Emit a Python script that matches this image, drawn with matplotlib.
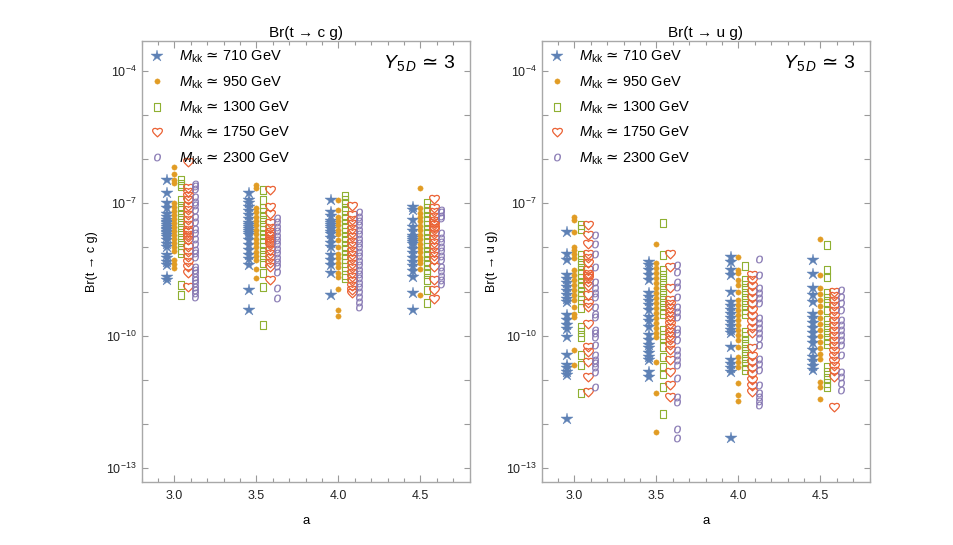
"""Br(t -> c g) and Br(t -> u g) scatter versus a, for Y5D ~ 3 and five KK masses."""

import matplotlib

matplotlib.use("Agg")
import matplotlib.pyplot as plt
import numpy as np
from matplotlib.lines import Line2D
from matplotlib.path import Path
from matplotlib.ticker import FixedLocator, LogFormatterSciNotation, MultipleLocator, NullFormatter

plt.rcParams["font.family"] = ["Liberation Sans", "DejaVu Sans"]
plt.rcParams["mathtext.fontset"] = "custom"
plt.rcParams["mathtext.rm"] = "Liberation Sans"
plt.rcParams["mathtext.it"] = "Liberation Sans:italic"
plt.rcParams["mathtext.sf"] = "DejaVu Sans"
plt.rcParams["mathtext.fallback"] = "stixsans"

A_VALUES = [3.0, 3.5, 4.0, 4.5]
MASSES = ["710", "950", "1300", "1750", "2300"]

# log10 Br(t -> c g), one sublist per value of a
CG_710 = [
    [-6.47, -6.77, -7.0, -7.11, -7.23, -7.30, -7.38, -7.42, -7.45, -7.50, -7.53, -7.58, -7.61, -7.65,
     -7.68, -7.72, -7.76, -7.83, -7.91, -7.99, -8.17, -8.25, -8.32, -8.40, -8.67, -8.74],
    [-6.77, -6.93, -7.0, -7.09, -7.18, -7.27, -7.36, -7.45, -7.50, -7.54, -7.58, -7.63, -7.68, -7.72,
     -7.83, -7.94, -8.06, -8.17, -8.27, -8.40, -8.97, -9.42],
    [-6.93, -7.19, -7.29, -7.39, -7.44, -7.49, -7.54, -7.59, -7.64, -7.69, -7.79, -7.89, -7.99, -8.17,
     -8.29, -8.40, -8.59, -9.08],
    [-7.08, -7.15, -7.38, -7.53, -7.63, -7.73, -7.78, -7.83, -7.88, -7.93, -8.03, -8.13, -8.23, -8.33,
     -8.43, -8.53, -8.67, -9.04, -9.42],
]
CG_950 = [
    [-6.17, -6.34, -6.46, -6.54, -7.0, -7.09, -7.18, -7.27, -7.36, -7.45, -7.54, -7.63, -7.72, -7.81,
     -7.90, -7.99, -8.08, -8.29, -8.38, -8.47],
    [-6.59, -6.64, -7.11, -7.2, -7.3, -7.4, -7.5, -7.6, -7.7, -7.8, -7.9, -8.0, -8.1, -8.2, -8.29,
     -8.48, -8.70],
    [-6.93, -7.14, -7.30, -7.40, -7.50, -7.60, -7.70, -7.83, -7.99, -8.14, -8.25, -8.36, -8.44, -8.59,
     -8.67, -8.95, -9.41, -9.55],
    [-6.66, -7.11, -7.21, -7.31, -7.41, -7.51, -7.61, -7.71, -7.81, -7.91, -8.01, -8.11, -8.21, -8.29,
     -8.36, -8.48, -9.08],
]
CG_1300 = [
    [-6.47, -6.55, -6.61, -6.93, -7.05, -7.16, -7.27, -7.38, -7.49, -7.61, -7.72, -7.83, -7.94, -8.06,
     -8.13, -8.85, -9.08],
    [-6.70, -6.93, -7.11, -7.19, -7.30, -7.42, -7.53, -7.6, -7.7, -7.8, -7.9, -8.0, -8.1, -8.21, -8.36,
     -8.59, -8.89, -9.76],
    [-6.84, -6.93, -7.0, -7.16, -7.26, -7.36, -7.46, -7.56, -7.66, -7.76, -7.86, -7.96, -8.06, -8.16,
     -8.26, -8.36, -8.44, -8.63, -8.70],
    [-7.0, -7.1, -7.2, -7.3, -7.4, -7.5, -7.6, -7.7, -7.8, -7.9, -8.0, -8.1, -8.2, -8.3, -8.4, -8.5,
     -8.6, -8.74, -8.97, -9.27],
]
CG_1750 = [
    [-6.06, -6.65, -6.74, -6.84, -6.93, -7.05, -7.16, -7.27, -7.38, -7.49, -7.61, -7.66, -7.72, -7.77,
     -7.83, -7.99, -8.11, -8.22, -8.33, -8.45, -8.58, -8.90],
    [-6.70, -7.08, -7.23, -7.45, -7.55, -7.65, -7.70, -7.75, -7.80, -7.85, -7.90, -7.95, -8.05, -8.15,
     -8.25, -8.35, -8.45, -8.74],
    [-7.06, -7.27, -7.37, -7.47, -7.57, -7.67, -7.77, -7.87, -7.97, -8.07, -8.17, -8.27, -8.37, -8.47,
     -8.57, -8.67, -8.77, -8.87, -8.97, -9.04],
    [-6.89, -7.11, -7.2, -7.3, -7.4, -7.45, -7.5, -7.55, -7.6, -7.7, -7.8, -7.9, -8.0, -8.1, -8.2,
     -8.29, -8.44, -8.74, -8.97, -9.16],
]
CG_2300 = [
    [-6.55, -6.61, -6.68, -6.85, -6.96, -7.04, -7.15, -7.30, -7.42, -7.57, -7.68, -7.80, -7.91, -8.06,
     -8.13, -8.21, -8.44, -8.51, -8.59, -8.66, -8.74, -8.81, -8.89, -8.96, -9.04, -9.12],
    [-7.33, -7.43, -7.53, -7.63, -7.73, -7.83, -7.93, -8.03, -8.13, -8.23, -8.33, -8.43, -8.56, -8.92,
     -9.15],
    [-7.19, -7.3, -7.4, -7.5, -7.6, -7.7, -7.8, -7.9, -8.0, -8.1, -8.2, -8.3, -8.4, -8.5, -8.6, -8.7,
     -8.81, -8.89, -9.01, -9.12, -9.23, -9.36],
    [-7.15, -7.2, -7.28, -7.33, -7.68, -7.78, -7.88, -7.98, -8.08, -8.19, -8.29, -8.44, -8.54, -8.64,
     -8.74, -8.82],
]

# log10 Br(t -> u g), one sublist per value of a
UG_710 = [
    [-7.65, -8.14, -8.29, -8.63, -8.72, -8.81, -8.90, -8.99, -9.08, -9.17, -9.24, -9.54, -9.65, -9.76,
     -9.84, -10.03, -10.44, -10.67, -10.74, -10.82, -10.90, -11.88],
    [-8.33, -8.40, -8.51, -8.63, -8.74, -9.04, -9.13, -9.22, -9.31, -9.42, -9.57, -9.67, -9.80, -9.99,
     -10.10, -10.22, -10.29, -10.40, -10.48, -10.56, -10.82, -10.94],
    [-8.21, -8.33, -8.51, -8.63, -9.01, -9.24, -9.33, -9.42, -9.51, -9.60, -9.69, -9.78, -9.87, -9.94,
     -10.25, -10.56, -10.65, -10.74, -10.82, -12.33],
    [-8.29, -8.61, -8.93, -9.08, -9.23, -9.50, -9.60, -9.72, -9.83, -9.94, -10.06, -10.17, -10.33,
     -10.48, -10.58, -10.69, -10.78],
]
UG_950 = [
    [-7.31, -7.38, -7.65, -7.99, -8.06, -8.14, -8.25, -8.51, -8.63, -8.74, -8.85, -8.97, -9.08, -9.20,
     -9.35, -9.50, -9.57, -10.33, -10.67],
    [-7.91, -8.36, -8.47, -8.58, -8.70, -8.81, -8.92, -9.04, -9.15, -9.26, -9.38, -9.49, -9.60, -9.72,
     -9.83, -9.94, -10.03, -10.59, -11.31, -12.18],
    [-8.21, -8.51, -8.59, -8.74, -8.85, -9.01, -9.20, -9.31, -9.42, -9.54, -9.65, -9.76, -9.88, -9.99,
     -10.10, -10.25, -10.48, -10.59, -10.71, -11.07, -11.35, -11.48],
    [-7.80, -8.63, -8.93, -9.06, -9.20, -9.33, -9.47, -9.60, -9.74, -9.88, -10.01, -10.15, -10.28,
     -10.42, -10.52, -11.05, -11.16, -11.43],
]
UG_1300 = [
    [-7.49, -7.57, -8.17, -8.28, -8.4, -8.5, -8.6, -8.7, -8.8, -8.9, -9.0, -9.1, -9.2, -9.38, -9.8,
     -9.91, -10.03, -10.44, -10.67, -11.31],
    [-7.44, -8.17, -8.51, -8.63, -8.74, -8.85, -8.97, -9.08, -9.20, -9.31, -9.42, -9.50, -9.88, -9.99,
     -10.06, -10.25, -10.48, -10.71, -10.86, -11.16, -11.77],
    [-8.42, -8.74, -8.85, -8.97, -9.08, -9.20, -9.31, -9.42, -9.50, -9.91, -10.01, -10.12, -10.24,
     -10.35, -10.47, -10.58, -10.69, -10.78],
    [-7.95, -8.51, -8.67, -9.04, -9.15, -9.26, -9.42, -9.65, -9.76, -9.88, -9.99, -10.10, -10.18,
     -10.71, -10.83, -10.96, -11.08, -11.16],
]
UG_1750 = [
    [-7.49, -7.72, -7.91, -8.14, -8.25, -8.36, -8.51, -8.6, -8.65, -8.7, -8.78, -8.87, -9.08, -9.27,
     -9.35, -9.73, -10.25, -10.37, -10.59, -10.93, -11.28],
    [-8.14, -8.44, -8.93, -9.20, -9.29, -9.38, -9.47, -9.56, -9.65, -9.74, -9.83, -9.92, -10.01,
     -10.10, -10.22, -10.33, -10.56, -10.82, -11.12, -11.39],
    [-8.63, -8.74, -8.88, -9.01, -9.15, -9.29, -9.42, -9.56, -9.69, -9.83, -9.94, -10.28, -10.47,
     -10.60, -10.74, -10.87, -11.01, -11.14, -11.28],
    [-9.01, -9.10, -9.22, -9.33, -9.45, -9.56, -9.67, -9.78, -9.90, -10.01, -10.12, -10.24, -10.35,
     -10.47, -10.58, -10.69, -10.80, -10.94, -11.62],
]
UG_2300 = [
    [-7.72, -7.91, -8.14, -8.44, -8.78, -8.93, -9.03, -9.12, -9.35, -9.50, -9.57, -9.88, -9.95, -10.03,
     -10.22, -10.44, -10.56, -10.63, -10.71, -10.82, -11.16],
    [-8.40, -8.55, -8.78, -8.89, -9.12, -9.35, -9.46, -9.57, -9.84, -9.95, -10.10, -10.33, -10.44,
     -10.56, -10.67, -10.96, -11.39, -11.50, -12.11, -12.33],
    [-8.27, -8.63, -8.93, -9.04, -9.15, -9.27, -9.61, -9.72, -9.83, -9.94, -10.06, -10.22, -10.52,
     -10.65, -10.78, -11.12, -11.31, -11.40, -11.49, -11.58],
    [-8.97, -9.12, -9.26, -9.42, -9.65, -9.76, -9.88, -9.99, -10.10, -10.22, -10.44, -10.82, -10.94,
     -11.08, -11.24],
]

COLORS = ["#5E81B5", "#E19C24", "#8FB032", "#EB6235", "#8778B3"]
X_SHIFT = [-0.045, 0.0, 0.04, 0.083, 0.128]

HEART = Path(
    [(0, -0.9), (-0.5, -0.4), (-1.0, -0.05), (-1.0, 0.4), (-1.0, 0.9), (-0.3, 1.0), (0, 0.6),
     (0.3, 1.0), (1.0, 0.9), (1.0, 0.4), (1.0, -0.05), (0.5, -0.4), (0, -0.9), (0, -0.9)],
    [Path.MOVETO] + [Path.CURVE4] * 12 + [Path.CLOSEPOLY],
)
RECT = Path(
    [(-0.32, -0.5), (0.32, -0.5), (0.32, 0.5), (-0.32, 0.5), (-0.32, -0.5)],
    [Path.MOVETO, Path.LINETO, Path.LINETO, Path.LINETO, Path.CLOSEPOLY],
)

STYLES = [
    dict(marker="*", ms=9.0, mfc=COLORS[0], mec=COLORS[0], mew=0.3),
    dict(marker="o", ms=3.8, mfc=COLORS[1], mec=COLORS[1], mew=0.3),
    dict(marker=RECT, ms=6.0, mfc="none", mec=COLORS[2], mew=0.8),
    dict(marker=HEART, ms=7.0, mfc="none", mec=COLORS[3], mew=0.9),
    dict(marker=r"$o$", ms=5.5, mfc=COLORS[4], mec=COLORS[4], mew=0.1),
]

GREY = "#9a9a9a"
APPROX = r"$\mathsf{≃}$"


def draw_panel(ax, series, process):
    for k, data in enumerate(series):
        for a, logs in zip(A_VALUES, data):
            y = 10.0 ** np.array(logs)
            x = np.full(len(y), a + X_SHIFT[k])
            ax.plot(x, y, ls="none", **STYLES[k])

    ax.set_yscale("log")
    ax.set_xlim(2.8, 4.8)
    ax.set_ylim(10 ** -13.32, 10 ** -3.31)
    ax.xaxis.set_major_locator(FixedLocator(A_VALUES))
    ax.xaxis.set_minor_locator(MultipleLocator(0.1))
    ax.set_xticklabels(["3.0", "3.5", "4.0", "4.5"])
    ax.yaxis.set_major_locator(FixedLocator([1e-13, 1e-10, 1e-7, 1e-4]))
    ax.yaxis.set_major_formatter(LogFormatterSciNotation())
    ax.yaxis.set_minor_locator(FixedLocator([10.0 ** e for e in range(-13, -3)]))
    ax.yaxis.set_minor_formatter(NullFormatter())

    ax.tick_params(which="both", direction="in", top=True, right=True, color=GREY,
                   labelsize=9, labelcolor="#222222", width=0.8)
    ax.tick_params(axis="x", which="major", length=5, pad=6)
    ax.tick_params(axis="x", which="minor", length=3)
    ax.tick_params(axis="y", which="both", length=4)
    for sp in ax.spines.values():
        sp.set_color("#a8a8a8")
        sp.set_linewidth(1.0)

    label = f"Br(t → {process} g)"
    ax.set_title(label, fontsize=11, pad=3)
    ax.set_ylabel(label, fontsize=9, labelpad=6)
    ax.set_xlabel("a", fontsize=9.5, labelpad=9)

    handles = [Line2D([], [], ls="none", **STYLES[k]) for k in range(5)]
    labels = [r"$M_{\mathrm{kk}}$ " + APPROX + " " + m + " GeV" for m in MASSES]
    ax.legend(handles, labels, loc="upper left", frameon=False, fontsize=10.5,
              handlelength=1.0, handletextpad=1.0, labelspacing=0.62,
              borderaxespad=0.35, borderpad=0.2)
    ax.text(0.955, 0.95, r"$Y_{5\,D}$ " + APPROX + " 3", transform=ax.transAxes, ha="right",
            va="center", fontsize=14)


fig = plt.figure(figsize=(9.54, 5.45), dpi=100)
ax_c = fig.add_axes([0.1485, 0.1156, 0.3438, 0.8097])
ax_u = fig.add_axes([0.5678, 0.1156, 0.3438, 0.8097])

draw_panel(ax_c, [CG_710, CG_950, CG_1300, CG_1750, CG_2300], "c")
draw_panel(ax_u, [UG_710, UG_950, UG_1300, UG_1750, UG_2300], "u")

fig.savefig("out.png", dpi=100)
